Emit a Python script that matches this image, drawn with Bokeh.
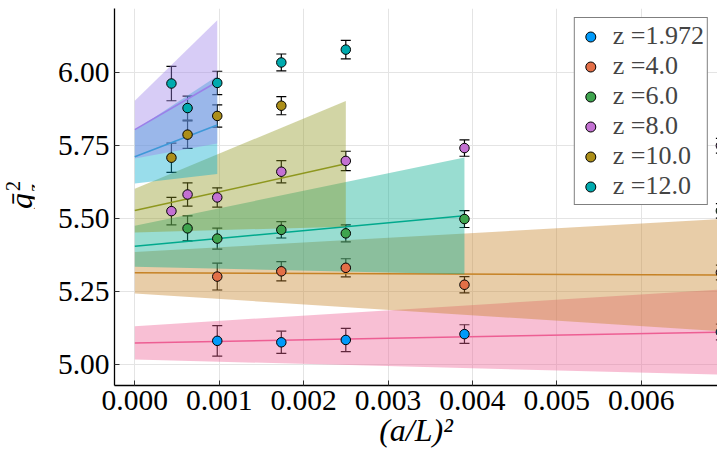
import numpy as np
from bokeh.plotting import figure
from bokeh.layouts import row
from bokeh.models import (ColumnDataSource, Whisker, TeeHead, Legend, LegendItem,
                          FixedTicker, Range1d, Div)
from bokeh.embed import file_html
from bokeh.resources import INLINE

# ---------------- data ----------------
series_labels = ["z =1.972", "z =4.0", "z =6.0", "z =8.0", "z =10.0", "z =12.0"]

x_z1972 = [0.000977, 0.001736, 0.0025, 0.003906, 0.006944]
y_z1972 = [5.082, 5.077, 5.085, 5.105, 5.112]
e_z1972 = [0.052, 0.038, 0.040, 0.032, 0.027]

x_z4 = [0.000977, 0.001736, 0.0025, 0.003906, 0.006944]
y_z4 = [5.302, 5.320, 5.332, 5.274, 5.316]
e_z4 = [0.046, 0.033, 0.031, 0.028, 0.025]

x_z6 = [0.000625, 0.000977, 0.001736, 0.0025, 0.003906, 0.006944]
y_z6 = [5.467, 5.432, 5.462, 5.450, 5.499, 5.527]
e_z6 = [0.043, 0.036, 0.028, 0.029, 0.029, 0.025]

x_z8 = [0.000434, 0.000625, 0.000977, 0.001736, 0.0025, 0.003906, 0.006944]
y_z8 = [5.526, 5.583, 5.573, 5.661, 5.698, 5.742, 5.750]
e_z8 = [0.047, 0.040, 0.033, 0.038, 0.033, 0.028, 0.025]

x_z10 = [0.000434, 0.000625, 0.000977, 0.001736]
y_z10 = [5.709, 5.788, 5.852, 5.887]
e_z10 = [0.050, 0.047, 0.038, 0.031]

x_z12 = [0.000434, 0.000625, 0.000977, 0.001736, 0.0025]
y_z12 = [5.963, 5.879, 5.965, 6.035, 6.079]
e_z12 = [0.059, 0.041, 0.040, 0.029, 0.032]

# linear fits: value at x=0 and at the end of the fit range, with band half-widths
fit_x_end = [0.006944, 0.006944, 0.003906, 0.0025, 0.000977, 0.000977]
fit_y_start = [5.075, 5.315, 5.406, 5.528, 5.712, 5.805]
fit_y_end = [5.112, 5.307, 5.510, 5.688, 5.821, 5.969]
fit_h_start = [0.057, 0.071, 0.070, 0.075, 0.091, 0.099]
fit_h_end = [0.146, 0.192, 0.200, 0.215, 0.168, 0.211]

x_ticks = [0.000, 0.001, 0.002, 0.003, 0.004, 0.005, 0.006]
y_ticks = [5.00, 5.25, 5.50, 5.75, 6.00]

point_colors = ["#009AFA", "#E36F47", "#3EA44E", "#C371D2", "#AC8E18", "#00AAAE"]
fit_colors = ["#ED5E93", "#C68225", "#00A98D", "#8E971E", "#00A9CD", "#9B7FE9"]

xs = [x_z1972, x_z4, x_z6, x_z8, x_z10, x_z12]
ys = [y_z1972, y_z4, y_z6, y_z8, y_z10, y_z12]
es = [e_z1972, e_z4, e_z6, e_z8, e_z10, e_z12]

FONT = "Liberation Serif"
LEFT_W = 34

p = figure(width=717 - LEFT_W, height=457, output_backend="svg", toolbar_location=None,
           x_range=Range1d(-0.0002405, 0.006904), y_range=Range1d(4.9291, 6.2198),
           min_border_left=114 - LEFT_W, min_border_right=0, min_border_top=8,
           min_border_bottom=72)
p.outline_line_color = None
p.background_fill_color = "white"

# grid
for g in (p.xgrid, p.ygrid):
    g.grid_line_color = "#e4e4e4"
    g.grid_line_width = 1

# axes
p.xaxis.ticker = FixedTicker(ticks=x_ticks)
p.yaxis.ticker = FixedTicker(ticks=y_ticks)
p.xaxis.major_label_overrides = {t: f"{t:.3f}" for t in x_ticks}
p.yaxis.major_label_overrides = {t: f"{t:.2f}" for t in y_ticks}
for ax in (p.xaxis, p.yaxis):
    ax.axis_line_color = "black"
    ax.axis_line_width = 1.3
    ax.major_tick_in = 5
    ax.major_tick_out = 0
    ax.major_tick_line_color = "#333333"
    ax.minor_tick_line_color = None
    ax.major_label_text_font = FONT
    ax.major_label_text_font_size = "29.5px"
    ax.major_label_text_color = "black"
p.yaxis.major_label_standoff = 5
p.xaxis.major_label_standoff = 5
p.xaxis.axis_label = "(a/L)²"
p.xaxis.axis_label_text_font = FONT
p.xaxis.axis_label_text_font_style = "italic"
p.xaxis.axis_label_text_font_size = "32px"
p.xaxis.axis_label_standoff = -1
p.xaxis.axis_label_text_color = "black"

# error bars (under the bands)
for x, y, e in zip(xs, ys, es):
    src = ColumnDataSource(dict(x=x, lo=[a - b for a, b in zip(y, e)],
                                hi=[a + b for a, b in zip(y, e)]))
    w = Whisker(source=src, base="x", upper="hi", lower="lo", level="underlay",
                line_color="black", line_width=1.2,
                upper_head=TeeHead(size=10, line_color="black", line_width=1.2),
                lower_head=TeeHead(size=10, line_color="black", line_width=1.2))
    p.add_layout(w)

# fit bands and lines
for xe, y0, y1, h0, h1, c in zip(fit_x_end, fit_y_start, fit_y_end, fit_h_start, fit_h_end, fit_colors):
    bx = [0.0, xe]
    p.varea(x=bx, y1=[y0 - h0, y1 - h1], y2=[y0 + h0, y1 + h1],
            fill_color=c, fill_alpha=0.4)
    p.line(x=bx, y=[y0, y1], line_color=c, line_width=1.5)

# points
point_renderers = []
for x, y, c in zip(xs, ys, point_colors):
    r = p.scatter(x=x, y=y, size=9.5, fill_color=c, line_color="black", line_width=1)
    point_renderers.append(r)

legend = Legend(items=[LegendItem(label=lab, renderers=[r])
                       for lab, r in zip(series_labels, point_renderers)],
                location="top_right", margin=9, padding=3, spacing=0,
                glyph_width=25, glyph_height=25, label_height=25, label_standoff=10,
                label_text_font=FONT, label_text_font_size="26px",
                border_line_color="black", border_line_width=1.5,
                background_fill_color="white", background_fill_alpha=1.0)
p.add_layout(legend)

# y-axis label (g-bar with subscript z and superscript 2), rotated like the reference
span = ("position:absolute;left:{l}px;top:{t}px;transform:translate(-50%,-50%) rotate(-90deg);"
        "font-size:{s}px;font-style:{st};line-height:1;white-space:nowrap;")
ylab_html = (
    f'<div style="position:relative;width:{LEFT_W}px;height:457px;'
    f'font-family:\'{FONT}\';color:black;">'
    f'<span style="{span.format(l=20.6, t=201, s=32, st="italic")}">ḡ</span>'
    f'<span style="{span.format(l=13, t=186, s=20, st="normal")}">2</span>'
    f'<span style="{span.format(l=34.7, t=188, s=20, st="italic")}">z</span>'
    '</div>'
)
ylab = Div(text=ylab_html, width=LEFT_W, height=457, margin=0)

layout = row(ylab, p, spacing=0)
open("out.html", "w").write(file_html(layout, INLINE))
